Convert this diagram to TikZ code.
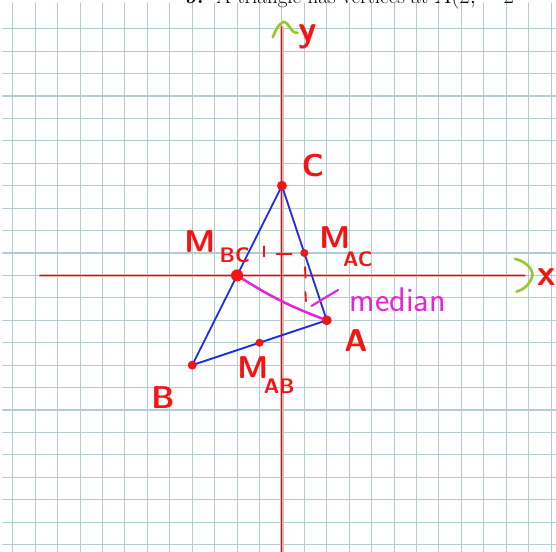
\documentclass[tikz,border=0pt]{standalone}
\usepackage{fontspec}
\definecolor{gridblue}{RGB}{178,205,210}
\definecolor{inkred}{RGB}{245,20,20}
\definecolor{inkgreen}{RGB}{150,200,40}
\definecolor{inkpink}{RGB}{232,34,216}
\definecolor{axisdark}{RGB}{150,40,40}
\definecolor{axislight}{RGB}{240,175,175}
\definecolor{triblue}{RGB}{30,45,232}

\begin{document}
\begin{tikzpicture}[x=0.6cm,y=0.6cm,line cap=round,line join=round,
    gridline/.style={line width=0.8pt,draw=gridblue},
    axishalo/.style={line width=2.4pt,draw=axislight},
    axiscore/.style={line width=0.8pt,draw=axisdark},
    greenmark/.style={line width=2pt,draw=inkgreen},
    redmark/.style={line width=1.4pt,draw=inkred},
    triside/.style={line width=1.4pt,draw=triblue},
    bigink/.style={inkred,font=\sffamily\bfseries\fontsize{24}{24}\selectfont,inner sep=0pt},
    subink/.style={inkred,font=\sffamily\bfseries\fontsize{16}{16}\selectfont,inner sep=0pt},
    axisink/.style={inkred,font=\sffamily\bfseries\fontsize{28}{28}\selectfont,inner sep=0pt}]
  \useasboundingbox (-12.57,-12.33) rectangle (12.22,12.28);
  % graph paper
  \foreach \x in {-12,...,12} {
    \draw[gridline] (\x,-12.33) -- (\x,12.15);
  }
  \foreach \y in {-12,...,11} {
    \draw[gridline] (-12.45,\y) -- (12.22,\y);
  }
  % question text, cut off at the top
  \node[anchor=base west,inner sep=0pt,font=\fontsize{16}{19}\selectfont] (question) at (-4.32,12.13)
    {\textbf{9.}\ \ A triangle has vertices at $A(2,\ -2$};
  % axes
  \coordinate (xstart) at (-10.79,0);
  \coordinate (xend) at (10.83,0);
  \coordinate (ystart) at (0,-12.4);
  \coordinate (yend) at (0,11.08);
  \draw[axishalo] (xstart) -- (xend);
  \draw[axishalo] (ystart) -- (yend);
  \draw[axiscore] (xstart) -- (xend);
  \draw[axiscore] (ystart) -- (yend);
  \draw[greenmark] (-0.41,10.62) .. controls (-0.2,11.1) .. (0.05,11.3)
    .. controls (0.3,11.35) and (0.4,10.75) .. (0.7,10.82);
  \draw[greenmark] (10.39,0.74) .. controls (11.0,0.6) and (11.25,0.15) .. (11.15,-0.08)
    .. controls (11.0,-0.45) and (10.8,-0.62) .. (10.46,-0.72);
  \node[axisink] (ylabel) at (1.16,10.62) {y};
  \node[axisink] (xlabel) at (11.82,-0.07) {x};
  % triangle and midpoints
  \coordinate (A) at (2,-2);
  \coordinate (B) at (-4,-4);
  \coordinate (C) at (0,4);
  \coordinate (Mbc) at (-2,0);
  \coordinate (Mac) at (1,1);
  \coordinate (Mab) at (-1,-3);
  \draw[triside] (A) -- (B) -- (C) -- cycle;
  \draw[line width=1.9pt,draw=inkpink] (Mbc) to[bend right=6] (A);
  \foreach \p/\r in {A/0.22,B/0.2,C/0.22,Mbc/0.27,Mac/0.18,Mab/0.18} {
    \fill[inkred] (\p) circle (\r);
  }
  % counting marks
  \draw[redmark] (-0.79,1.3) -- (-0.79,0.85);
  \draw[redmark] (-0.24,0.97) -- (0.43,0.97);
  \draw[redmark] (1.03,0.37) -- (1.05,-0.1);
  \draw[redmark] (1.05,-0.74) -- (1.07,-1.15);
  % labels
  \node[bigink] (lblC) at (1.38,4.88) {C};
  \node[bigink] (lblA) at (3.3,-2.92) {A};
  \node[bigink] (lblB) at (-5.3,-5.46) {B};
  \node[bigink] (lblMbc) at (-3.66,1.49) {M};
  \node[subink] (subMbc) at (-2.1,0.91) {BC};
  \node[bigink] (lblMac) at (2.36,1.67) {M};
  \node[subink] (subMac) at (3.39,0.74) {AC};
  \node[bigink] (lblMab) at (-1.3,-4.12) {M};
  \node[subink] (subMab) at (-0.12,-4.92) {AB};
  \node[anchor=base,inkpink,inner sep=0pt,font=\sffamily\fontsize{26}{26}\selectfont] (median) at (5.17,-1.6) {median};
  \coordinate (leadA) at (1.32,-1.36);
  \coordinate (leadB) at (2.5,-0.65);
  \draw[line width=1.6pt,draw=inkpink] (leadA) -- (leadB);
\end{tikzpicture}
\end{document}
